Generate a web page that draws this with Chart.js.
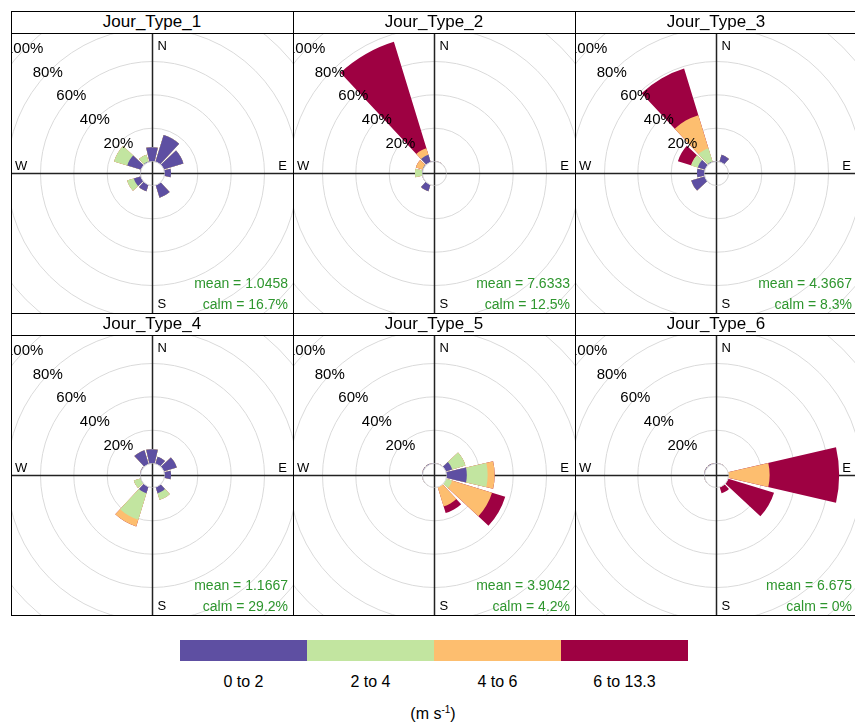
<!DOCTYPE html>
<html>
<head>
<meta charset="utf-8">
<script src="https://cdn.jsdelivr.net/npm/chart.js@4/dist/chart.umd.min.js"></script>
<style>
body{margin:0;background:#fff;font-family:Arial,"Liberation Sans",sans-serif;}
#page{position:relative;width:855px;height:725px;overflow:hidden;background:#fff;}
.panel{position:absolute;width:282px;height:302px;}
.panel canvas{position:absolute;left:0;top:22px;}
.strip{position:absolute;left:0;top:0;width:282px;height:22px;line-height:22px;text-align:center;font-size:17px;color:#000;}
.stripline{position:absolute;left:0;top:22px;width:282px;height:1px;background:#000;}
.frame{position:absolute;left:0;top:0;width:283px;height:303px;box-sizing:border-box;border:1px solid #000;pointer-events:none;}
#key{position:absolute;left:180px;top:640px;height:21px;display:flex;}
#key div{width:127px;height:21px;}
.keylab{position:absolute;top:673px;width:127px;text-align:center;font-size:16px;color:#000;}
#unit{position:absolute;left:333px;top:704px;width:200px;text-align:center;font-size:16px;}
#unit sup{font-size:10px;}
</style>
</head>
<body>
<div id="page"></div>
<script>
// wind rose per day type (openair style), 30 degree sectors
const directions = [0, 30, 60, 90, 120, 150, 180, 210, 240, 270, 300, 330];
const speedBins = ['0 to 2', '2 to 4', '4 to 6', '6 to 13.3'];
const binColours = ['#5E4FA2', '#C2E5A0', '#FDBE6F', '#9E0142'];
const panelNames = ['Jour_Type_1', 'Jour_Type_2', 'Jour_Type_3', 'Jour_Type_4', 'Jour_Type_5', 'Jour_Type_6'];
const meanSpeeds = ['1.0458', '7.6333', '4.3667', '1.1667', '3.9042', '6.675'];
const calmShares = ['16.7%', '12.5%', '8.3%', '29.2%', '4.2%', '0%'];
const ringValues = [0, 20, 40, 60, 80, 100, 120];
const ringLabels = ['20%', '40%', '60%', '80%', '100%'];

// frequency in % per direction, one row per speed bin
const jourType1 = [
  [8.3, 16.7, 12.5, 4.2, 0, 8.3, 0, 4.2, 4.2, 0, 8.3, 0],
  [0, 0, 0, 0, 0, 0, 0, 0, 4.2, 0, 8.3, 4.2],
  [0, 0, 0, 0, 0, 0, 0, 0, 0, 0, 0, 0],
  [0, 0, 0, 0, 0, 0, 0, 0, 0, 0, 0, 0]
];
const jourType2 = [
  [0, 0, 0, 0, 0, 0, 0, 4.2, 0, 0, 0, 4.2],
  [0, 0, 0, 0, 0, 0, 0, 0, 0, 4.2, 0, 0],
  [0, 0, 0, 0, 0, 0, 0, 0, 0, 0, 4.2, 4.2],
  [0, 0, 0, 0, 0, 0, 0, 0, 0, 0, 0, 66.7]
];
const jourType3 = [
  [0, 4.2, 0, 0, 0, 0, 0, 0, 8.3, 4.2, 4.2, 0],
  [0, 0, 0, 0, 0, 0, 0, 0, 0, 0, 4.2, 8.3],
  [0, 0, 0, 0, 0, 0, 0, 0, 0, 0, 0, 20.8],
  [0, 0, 0, 0, 0, 0, 0, 0, 0, 0, 8.3, 29.2]
];
const jourType4 = [
  [8.3, 4.2, 8.3, 4.2, 0, 4.2, 0, 4.2, 0, 0, 0, 8.3],
  [0, 0, 0, 0, 0, 4.2, 0, 16.7, 4.2, 0, 0, 0],
  [0, 0, 0, 0, 0, 0, 0, 4.2, 0, 0, 0, 0],
  [0, 0, 0, 0, 0, 0, 0, 0, 0, 0, 0, 0]
];
const jourType5 = [
  [0, 0, 4.2, 12.5, 0, 0, 0, 0, 0, 0, 0, 0],
  [0, 0, 8.3, 12.5, 4.2, 0, 0, 0, 0, 0, 0, 0],
  [0, 0, 0, 4.2, 25.0, 12.5, 0, 0, 0, 0, 0, 0],
  [0, 0, 0, 0, 8.3, 4.2, 0, 0, 0, 0, 0, 0]
];
const jourType6 = [
  [0, 0, 0, 0, 0, 0, 0, 0, 0, 0, 0, 0],
  [0, 0, 0, 0, 0, 0, 0, 0, 0, 0, 0, 0],
  [0, 0, 0, 25.0, 0, 0, 0, 0, 0, 0, 0, 0],
  [0, 0, 0, 41.7, 29.2, 4.2, 0, 0, 0, 0, 0, 0]
];
const panelData = [jourType1, jourType2, jourType3, jourType4, jourType5, jourType6];

const page = document.getElementById('page');

function stackRows(rows) {
  let acc = directions.map(() => 0);
  return rows.map(r => { acc = acc.map((a, i) => a + r[i]); return acc.slice(); });
}
// each sector is followed by a small empty gap element
function withGaps(vals) {
  const out = [];
  vals.forEach(v => { out.push(v); out.push(0); });
  return out;
}

const roseDecor = {
  id: 'roseDecor',
  beforeDatasetsDraw(chart) {
    const s = chart.scales.r, ctx = chart.ctx, cx = s.xCenter + 0.5, cy = s.yCenter + 0.5;
    ctx.save();
    ctx.strokeStyle = '#DADADA';
    ctx.lineWidth = 1;
    ringValues.forEach(v => {
      ctx.beginPath();
      ctx.arc(cx, cy, s.getDistanceFromCenterForValue(v), 0, Math.PI * 2);
      ctx.stroke();
    });
    ctx.strokeStyle = '#222';
    ctx.lineWidth = 1.5;
    ctx.beginPath();
    ctx.moveTo(0, cy); ctx.lineTo(chart.width, cy);
    ctx.moveTo(cx, 0); ctx.lineTo(cx, chart.height);
    ctx.stroke();
    ctx.restore();
  },
  afterDatasetsDraw(chart, args, opts) {
    const s = chart.scales.r, ctx = chart.ctx, cx = s.xCenter + 0.5, cy = s.yCenter + 0.5;
    const r0 = s.getDistanceFromCenterForValue(0);
    ctx.save();
    // calm hole in the middle
    ctx.fillStyle = '#fff';
    ctx.beginPath(); ctx.arc(cx, cy, r0, 0, Math.PI * 2); ctx.fill();
    ctx.strokeStyle = '#DADADA'; ctx.lineWidth = 1;
    ctx.beginPath(); ctx.arc(cx, cy, r0, 0, Math.PI * 2); ctx.stroke();
    ctx.strokeStyle = '#222'; ctx.lineWidth = 1.5;
    ctx.beginPath();
    ctx.moveTo(cx - r0, cy); ctx.lineTo(cx + r0, cy);
    ctx.moveTo(cx, cy - r0); ctx.lineTo(cx, cy + r0);
    ctx.stroke();

    // percentage labels along the NW diagonal
    ctx.fillStyle = '#000';
    ctx.font = '15px Arial, "Liberation Sans", sans-serif';
    ctx.textAlign = 'center';
    ctx.textBaseline = 'middle';
    ringLabels.forEach((lab, i) => {
      const d = s.getDistanceFromCenterForValue(ringValues[i + 1]) / Math.SQRT2;
      ctx.fillText(lab, cx - d - 2, cy - d + 2);
    });

    // compass letters
    ctx.font = '13px Arial, "Liberation Sans", sans-serif';
    ctx.textAlign = 'left';
    ctx.fillText('N', cx + 5, 13);
    ctx.fillText('S', cx + 5, chart.height - 9);
    ctx.fillText('W', 4, cy - 7);
    ctx.textAlign = 'right';
    ctx.fillText('E', 276, cy - 7);

    // mean / calm
    ctx.fillStyle = '#2E962E';
    ctx.font = '14px Arial, "Liberation Sans", sans-serif';
    ctx.fillText('mean = ' + opts.mean, 277, 251);
    ctx.fillText('calm = ' + opts.calm, 277, 272);
    ctx.restore();
  }
};

panelNames.forEach((name, p) => {
  const col = p % 3, row = Math.floor(p / 3);
  const panel = document.createElement('div');
  panel.className = 'panel';
  panel.style.left = (11 + col * 282) + 'px';
  panel.style.top = (11 + row * 302) + 'px';
  panel.innerHTML = '<canvas width="282" height="280"></canvas><div class="strip">' + name +
    '</div><div class="stripline"></div><div class="frame"></div>';
  page.appendChild(panel);

  const stacked = stackRows(panelData[p]);
  const labels = [];
  directions.forEach(d => { labels.push(d + '°'); labels.push(''); });

  new Chart(panel.querySelector('canvas'), {
    type: 'polarArea',
    data: {
      labels: labels,
      datasets: stacked.map((vals, k) => ({
        label: speedBins[k],
        data: withGaps(vals),
        backgroundColor: ctx => ctx.dataIndex % 2 ? 'rgba(0,0,0,0)' : binColours[k],
        borderWidth: 0,
        angle: ctx => ctx.dataIndex % 2 ? 4 : 26
      }))
    },
    options: {
      responsive: false,
      animation: false,
      layout: { padding: 0 },
      plugins: {
        legend: { display: false },
        tooltip: { enabled: false },
        roseDecor: { mean: meanSpeeds[p], calm: calmShares[p] }
      },
      scales: {
        r: {
          min: -7.2,
          max: 76.8,
          startAngle: -13,
          ticks: { display: false },
          grid: { display: false },
          angleLines: { display: false },
          pointLabels: { display: false }
        }
      }
    },
    plugins: [roseDecor]
  });
});

// colour key
const key = document.createElement('div');
key.id = 'key';
binColours.forEach(c => { const d = document.createElement('div'); d.style.background = c; key.appendChild(d); });
page.appendChild(key);
speedBins.forEach((b, i) => {
  const l = document.createElement('div');
  l.className = 'keylab';
  l.style.left = (180 + i * 127) + 'px';
  l.textContent = b;
  page.appendChild(l);
});
const unit = document.createElement('div');
unit.id = 'unit';
unit.innerHTML = '(m s<sup>-1</sup>)';
page.appendChild(unit);
</script>
</body>
</html>
